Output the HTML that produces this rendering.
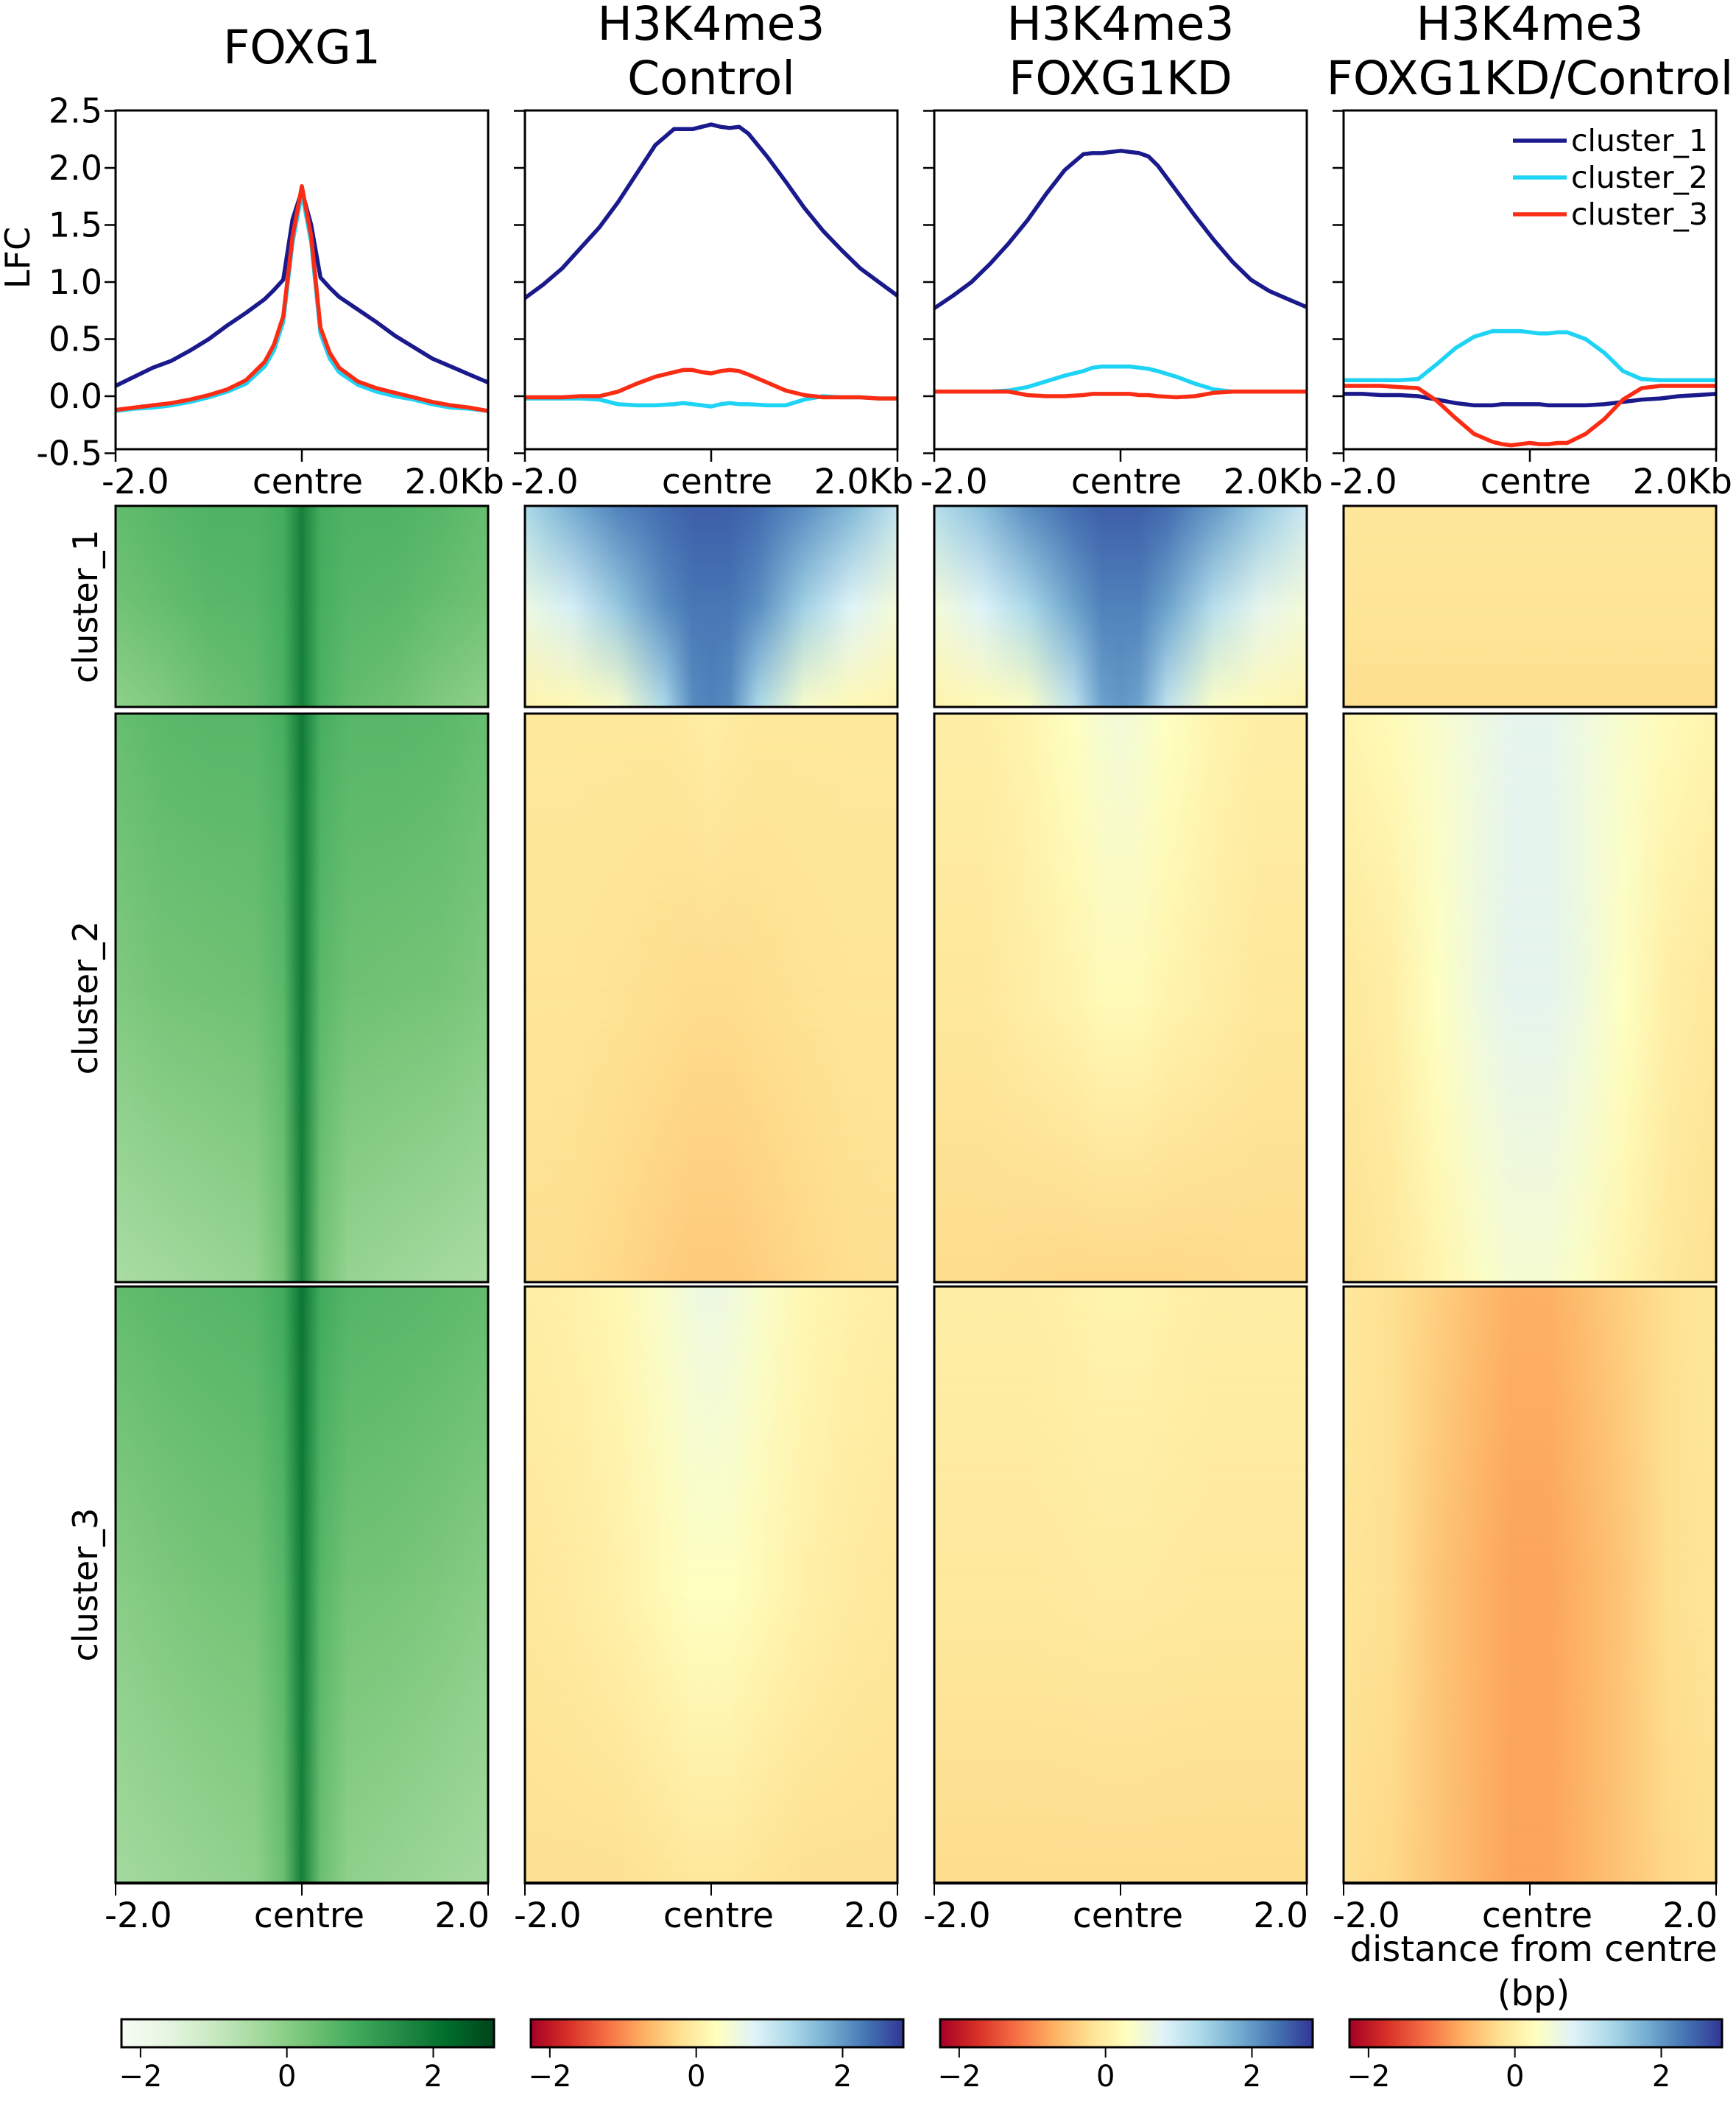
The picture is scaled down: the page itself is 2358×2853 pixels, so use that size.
<!DOCTYPE html>
<html><head><meta charset="utf-8"><style>
html,body{margin:0;padding:0;background:#fff;}
svg{display:block;font-family:"DejaVu Sans","Liberation Sans",sans-serif;}
</style></head><body>
<svg id="fig" width="2358" height="2853" viewBox="0 0 2358 2853" xmlns="http://www.w3.org/2000/svg"></svg>
<script>
// ---------- data ----------
const titles = [["FOXG1"],["H3K4me3","Control"],["H3K4me3","FOXG1KD"],["H3K4me3","FOXG1KD/Control"]];
const clusterNames = ["cluster_1","cluster_2","cluster_3"];
const seriesColors = ["#1a1a8c","#1fd3f5","#fa2d14"];
const yTicks = [-0.5,0.0,0.5,1.0,1.5,2.0,2.5];
const yTickLabels = ["-0.5","0.0","0.5","1.0","1.5","2.0","2.5"];
const cbTicks = [-2,0,2];
const cbTickLabels = ["\u22122","0","2"];
const px = [-2,-1.8,-1.6,-1.4,-1.2,-1,-0.8,-0.6,-0.4,-0.3,-0.2,-0.1,0,0.1,0.2,0.3,0.4,0.6,0.8,1,1.2,1.4,1.6,1.8,2];
// panel 1 FOXG1
const p1c1 = [0.09,0.17,0.25,0.31,0.40,0.50,0.62,0.73,0.85,0.93,1.02,1.55,1.80,1.50,1.04,0.95,0.87,0.76,0.65,0.53,0.43,0.33,0.26,0.19,0.12];
const p1c2 = [-0.13,-0.11,-0.10,-0.08,-0.05,-0.01,0.04,0.11,0.26,0.40,0.65,1.35,1.78,1.35,0.55,0.33,0.21,0.10,0.04,0.00,-0.03,-0.07,-0.10,-0.11,-0.13];
const p1c3 = [-0.12,-0.10,-0.08,-0.06,-0.03,0.01,0.06,0.14,0.30,0.45,0.70,1.40,1.84,1.40,0.60,0.38,0.25,0.13,0.07,0.03,-0.01,-0.05,-0.08,-0.10,-0.13];
// panel 2 Control
const p2c1 = [0.86,0.98,1.12,1.30,1.48,1.70,1.95,2.20,2.34,2.34,2.34,2.36,2.38,2.36,2.35,2.36,2.30,2.10,1.88,1.65,1.45,1.28,1.12,1.00,0.88];
const p2c2 = [-0.02,-0.02,-0.02,-0.02,-0.03,-0.07,-0.08,-0.08,-0.07,-0.06,-0.07,-0.08,-0.09,-0.07,-0.06,-0.07,-0.07,-0.08,-0.08,-0.03,0.00,-0.01,-0.01,-0.02,-0.02];
const p2c3 = [-0.01,-0.01,-0.01,0.00,0.00,0.04,0.11,0.17,0.21,0.23,0.23,0.21,0.20,0.22,0.23,0.22,0.19,0.12,0.05,0.01,-0.01,-0.01,-0.01,-0.02,-0.02];
// panel 3 FOXG1KD
const p3c1 = [0.77,0.88,1.00,1.16,1.34,1.54,1.77,1.98,2.12,2.13,2.13,2.14,2.15,2.14,2.13,2.10,2.02,1.80,1.58,1.37,1.18,1.02,0.92,0.85,0.78];
const p3c2 = [0.04,0.04,0.04,0.04,0.05,0.08,0.13,0.18,0.22,0.25,0.26,0.26,0.26,0.26,0.25,0.24,0.22,0.17,0.11,0.06,0.04,0.04,0.04,0.04,0.04];
const p3c3 = [0.04,0.04,0.04,0.04,0.04,0.01,0.00,0.00,0.01,0.02,0.02,0.02,0.02,0.02,0.01,0.01,0.00,-0.01,0.00,0.03,0.04,0.04,0.04,0.04,0.04];
// panel 4 FOXG1KD/Control
const p4c1 = [0.02,0.02,0.01,0.01,0.00,-0.03,-0.06,-0.08,-0.08,-0.07,-0.07,-0.07,-0.07,-0.07,-0.08,-0.08,-0.08,-0.08,-0.07,-0.05,-0.03,-0.02,0.00,0.01,0.02];
const p4c2 = [0.14,0.14,0.14,0.14,0.15,0.28,0.42,0.52,0.57,0.57,0.57,0.57,0.56,0.55,0.55,0.56,0.56,0.50,0.38,0.22,0.15,0.14,0.14,0.14,0.14];
const p4c3 = [0.09,0.09,0.09,0.08,0.07,-0.04,-0.19,-0.33,-0.40,-0.42,-0.43,-0.42,-0.41,-0.42,-0.42,-0.41,-0.41,-0.33,-0.20,-0.03,0.07,0.09,0.09,0.09,0.09];
const profiles = [[p1c1,p1c2,p1c3],[p2c1,p2c2,p2c3],[p3c1,p3c2,p3c3],[p4c1,p4c2,p4c3]];
// heatmap columns (kb) and rows (top edge, middle, bottom edge) per cluster
const hx = [-2,-1.5,-1,-0.5,-0.2,0,0.2,0.5,1,1.5,2];
const h1c1 = [[0.5,0.65,0.75,0.75,0.9,1.8,0.9,0.75,0.75,0.65,0.45],[0.3,0.45,0.6,0.65,0.85,1.8,0.85,0.65,0.6,0.45,0.3],[-0.1,0.1,0.35,0.5,0.8,1.8,0.8,0.5,0.35,0.1,-0.1]];
const h1c2 = [[0.45,0.6,0.65,0.65,0.85,1.9,0.85,0.65,0.65,0.6,0.45],[0.1,0.25,0.3,0.35,0.6,1.9,0.6,0.35,0.3,0.25,0.1],[-0.5,-0.4,-0.3,-0.2,0.3,1.8,0.3,-0.2,-0.3,-0.4,-0.5]];
const h1c3 = [[0.5,0.6,0.65,0.7,0.95,2.0,0.95,0.7,0.65,0.6,0.5],[0.0,0.15,0.25,0.3,0.65,1.9,0.65,0.3,0.25,0.15,0.0],[-0.4,-0.3,-0.2,-0.1,0.4,1.8,0.4,-0.1,-0.2,-0.3,-0.4]];
const h2c1 = [[1.3,1.8,2.2,2.4,2.5,2.5,2.5,2.4,2.1,1.7,1.1],[0.6,0.9,1.5,2.1,2.3,2.3,2.3,2.1,1.4,0.8,0.5],[0.1,0.2,0.4,1.3,2.1,2.2,2.1,1.3,0.4,0.2,0.1]];
const h2c2 = [[-0.1,-0.1,-0.1,-0.1,-0.05,0,-0.05,-0.1,-0.1,-0.1,-0.1],[-0.15,-0.15,-0.18,-0.22,-0.25,-0.25,-0.25,-0.22,-0.18,-0.15,-0.15],[-0.2,-0.22,-0.3,-0.4,-0.45,-0.45,-0.45,-0.4,-0.3,-0.22,-0.2]];
const h2c3 = [[0,0.05,0.15,0.4,0.55,0.6,0.55,0.4,0.15,0.05,0],[-0.1,-0.05,0.05,0.2,0.3,0.3,0.3,0.2,0.05,-0.05,-0.1],[-0.2,-0.2,-0.2,-0.15,-0.1,-0.1,-0.1,-0.15,-0.2,-0.2,-0.2]];
const h3c1 = [[1.2,1.6,2.1,2.4,2.5,2.5,2.5,2.4,2.0,1.5,1.0],[0.5,0.8,1.3,1.9,2.2,2.2,2.2,1.9,1.2,0.7,0.5],[0.1,0.2,0.35,1.1,1.9,2.0,1.9,1.1,0.35,0.2,0.1]];
const h3c2 = [[0,0,0.1,0.3,0.45,0.5,0.45,0.3,0.1,0,0],[-0.1,-0.1,0,0.1,0.2,0.2,0.2,0.1,0,-0.1,-0.1],[-0.25,-0.25,-0.28,-0.3,-0.3,-0.3,-0.3,-0.3,-0.28,-0.25,-0.25]];
const h3c3 = [[0,0,0,0.05,0.1,0.1,0.1,0.05,0,0,0],[-0.08,-0.08,-0.08,-0.06,-0.04,-0.04,-0.04,-0.06,-0.08,-0.08,-0.08],[-0.25,-0.25,-0.25,-0.25,-0.25,-0.25,-0.25,-0.25,-0.25,-0.25,-0.25]];
const h4c1 = [[-0.12,-0.12,-0.12,-0.12,-0.12,-0.12,-0.12,-0.12,-0.12,-0.12,-0.12],[-0.15,-0.15,-0.15,-0.15,-0.15,-0.15,-0.15,-0.15,-0.15,-0.15,-0.15],[-0.22,-0.22,-0.22,-0.22,-0.22,-0.22,-0.22,-0.22,-0.22,-0.22,-0.22]];
const h4c2 = [[0.1,0.2,0.4,0.6,0.7,0.7,0.7,0.6,0.4,0.2,0.1],[-0.1,0,0.3,0.6,0.7,0.7,0.7,0.6,0.3,0,-0.1],[-0.2,-0.1,0.1,0.35,0.45,0.45,0.45,0.35,0.1,-0.1,-0.2]];
const h4c3 = [[-0.1,-0.2,-0.4,-0.6,-0.7,-0.7,-0.7,-0.6,-0.4,-0.2,-0.1],[-0.15,-0.2,-0.5,-0.7,-0.8,-0.8,-0.8,-0.7,-0.5,-0.2,-0.15],[-0.2,-0.3,-0.5,-0.7,-0.8,-0.8,-0.8,-0.7,-0.5,-0.3,-0.2]];
const heat = [[h1c1,h1c2,h1c3],[h2c1,h2c2,h2c3],[h3c1,h3c2,h3c3],[h4c1,h4c2,h4c3]];

// ---------- layout ----------
const NS = "http://www.w3.org/2000/svg";
const svg = document.getElementById("fig");
const panelLeft = [157,713,1269,1825], PW = 506;
const profTop = 150, profBot = 610;
const heatTop = [687,969,1747], heatBot = [960,1741,2557];
const cbMin = -2.26, cbMax = 2.83;
const greens = ["#f7fcf5","#e5f5e0","#c7e9c0","#a1d99b","#74c476","#41ab5d","#238b45","#006d2c","#00441b"];
const rdylbu = ["#a50026","#d73027","#f46d43","#fdae61","#fee090","#ffffbf","#e0f3f8","#abd9e9","#74add1","#4575b4","#313695"];

function el(tag, attrs, parent){ const e=document.createElementNS(NS,tag); for(const k in attrs) e.setAttribute(k,attrs[k]); (parent||svg).appendChild(e); return e; }
function txt(s, attrs, parent){ const e=el("text",attrs,parent); e.textContent=s; return e; }
function hex(c){ return [parseInt(c.slice(1,3),16),parseInt(c.slice(3,5),16),parseInt(c.slice(5,7),16)]; }
function cmap(stops, t){ t=Math.max(0,Math.min(1,t)); const n=stops.length-1; const i=Math.min(n-1,Math.floor(t*n)); const f=t*n-i; const a=hex(stops[i]), b=hex(stops[i+1]); return "rgb("+a.map((v,k)=>Math.round(v+(b[k]-v)*f)).join(",")+")"; }
function norm(v){ return (v-cbMin)/(cbMax-cbMin); }
function xScale(p,v){ return panelLeft[p] + (v+2)/4*PW; }
function yScale(v){ return 538 - 155*v; }

const defs = el("defs",{});
// vertical fade masks: row0 visible at top fading to 0 at middle; row1 visible to middle fading to 0 at bottom
function fadeMask(id, stopsArr){
  const gid = id+"g";
  const lg = el("linearGradient",{id:gid,x1:"0",x2:"0",y1:"0",y2:"1"},defs);
  stopsArr.forEach(s=>el("stop",{offset:s[0],"stop-color":s[1]},lg));
  const m = el("mask",{id:id,maskContentUnits:"objectBoundingBox",x:"0",y:"0",width:"1",height:"1"},defs);
  el("rect",{x:0,y:0,width:1,height:1,fill:"url(#"+gid+")"},m);
}
fadeMask("m0",[["0","#fff"],["0.5","#000"],["1","#000"]]);
fadeMask("m1",[["0","#fff"],["0.5","#fff"],["1","#000"]]);

for(let p=0;p<4;p++){
  const L = panelLeft[p], R = L+PW, cx = L+PW/2;
  const g = el("g",{});
  
  
  const tl = titles[p];
  tl.forEach((line,i)=>{
    const y = tl.length===1 ? 86 : 54+i*74;
    const t = txt(line,{x:cx,y:y,"font-size":"63","text-anchor":"middle",fill:"#000"},g);
    
    
  });
  const pg = el("g",{},g);
  
  
  yTicks.forEach((v,i)=>{
    el("line",{x1:L-15,x2:L,y1:yScale(v),y2:yScale(v),stroke:"#000","stroke-width":"2.5"},pg);
    if(p===0){
      const t = txt(yTickLabels[i],{x:L-18,y:yScale(v)+16,"font-size":"46","text-anchor":"end"},pg);
      
      
    }
  });
  [[-2,"start",L-19,"-2.0"],[0,"middle",cx+8,"centre"],[2,"end",R+22,"2.0Kb"]].forEach(a=>{
    el("line",{x1:xScale(p,a[0]),x2:xScale(p,a[0]),y1:profBot,y2:profBot+17,stroke:"#000","stroke-width":"2.5"},pg);
    const t = txt(a[3],{x:a[2],y:670,"font-size":"47","text-anchor":a[1]},pg);
    
    
  });
  const clip = el("clipPath",{id:"pc"+p},defs);
  el("rect",{x:L,y:profTop,width:PW,height:profBot-profTop},clip);
  profiles[p].forEach((ser,s)=>{
    const d = ser.map((v,i)=>(i?"L":"M")+xScale(p,px[i]).toFixed(1)+","+yScale(v).toFixed(1)).join(" ");
    const path = el("path",{d:d,fill:"none",stroke:seriesColors[s],"stroke-width":"5.5","stroke-linejoin":"round","clip-path":"url(#pc"+p+")"},pg);
    
    
  });
  el("rect",{x:L,y:profTop,width:PW,height:profBot-profTop,fill:"none",stroke:"#000","stroke-width":"3"},pg);
  if(p===0){
    const t = txt("LFC",{x:0,y:0,"font-size":"46","text-anchor":"middle",transform:"translate(40,350) rotate(-90)"},pg);
    
    
  }
  const stops = p===0 ? greens : rdylbu;
  for(let c=0;c<3;c++){
    const top = heatTop[c], bot = heatBot[c], H = bot-top;
    const hg = el("g",{},g);
    
    
    const rows = heat[p][c];
    // draw bottom row first, then middle and top rows with vertical fade masks
    [2,1,0].forEach(r=>{
      const row = rows[r];
      const gid = "hg"+p+"_"+c+"_"+r;
      const lg = el("linearGradient",{id:gid,x1:"0",x2:"1",y1:"0",y2:"0"},defs);
      row.forEach((v,k)=>{ el("stop",{offset:((hx[k]+2)/4).toFixed(4),"stop-color":cmap(stops,norm(v))},lg); });
      const attrs = {x:L,y:top,width:PW,height:H,fill:"url(#"+gid+")"};
      if(r<2) attrs.mask = "url(#m"+r+")";
      const rect = el("rect",attrs,hg);
      
      
    });
    el("rect",{x:L,y:top,width:PW,height:H,fill:"none",stroke:"#000","stroke-width":"3"},hg);
    if(p===0){
      const t = txt(clusterNames[c],{x:0,y:0,"font-size":"46","text-anchor":"middle",transform:"translate(132,"+((top+bot)/2)+") rotate(-90)"},hg);
      
      
    }
  }
  el("line",{x1:L,x2:R,y1:2557,y2:2557,stroke:"#000","stroke-width":"4"},g);
  [[-2,"start",L-15,"-2.0"],[0,"middle",cx+10,"centre"],[2,"end",R+2,"2.0"]].forEach(a=>{
    el("line",{x1:xScale(p,a[0]),x2:xScale(p,a[0]),y1:2557,y2:2574,stroke:"#000","stroke-width":"2"},g);
    const t = txt(a[3],{x:a[2],y:2617,"font-size":"47","text-anchor":a[1]},g);
    
    
  });
  const cbL = L+8, cbW = 506;
  const cg = el("g",{},g);
  
  
  const cid = "cb"+p;
  const clg = el("linearGradient",{id:cid,x1:"0",x2:"1",y1:"0",y2:"0"},defs);
  stops.forEach((s,i)=>el("stop",{offset:(i/(stops.length-1)).toFixed(3),"stop-color":s},clg));
  el("rect",{x:cbL,y:2742,width:cbW,height:38,fill:"url(#"+cid+")",stroke:"#000","stroke-width":"3"},cg);
  cbTicks.forEach((v,i)=>{
    const x = cbL + (v-cbMin)/(cbMax-cbMin)*cbW;
    el("line",{x1:x,x2:x,y1:2780,y2:2794,stroke:"#000","stroke-width":"2"},cg);
    const t = txt(cbTickLabels[i],{x:x,y:2833,"font-size":"40","text-anchor":"middle"},cg);
    
    
  });
}
const lgG = el("g",{});


clusterNames.forEach((n,i)=>{
  const y = 191 + i*50;
  el("line",{x1:2055,x2:2128,y1:y,y2:y,stroke:seriesColors[i],"stroke-width":"5.5"},lgG);
  const t = txt(n,{x:2134,y:y+14,"font-size":"41"},lgG);
  
  
});
const xt1 = txt("distance from centre",{x:2083,y:2663,"font-size":"48","text-anchor":"middle"});


const xt2 = txt("(bp)",{x:2083,y:2723,"font-size":"48","text-anchor":"middle"});


</script>
</body></html>
